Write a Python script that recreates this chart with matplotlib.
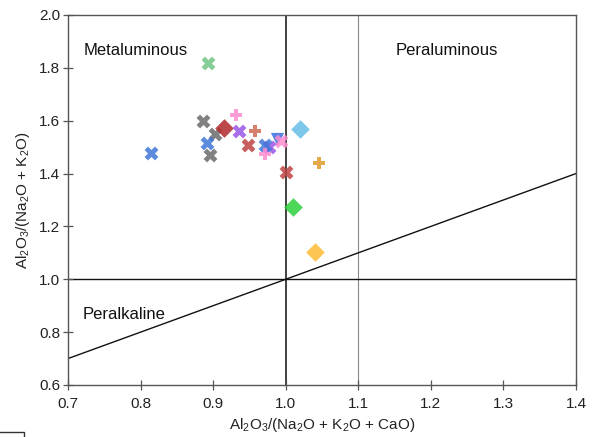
import matplotlib
matplotlib.use("Agg")
import matplotlib.pyplot as plt
from matplotlib.patches import Rectangle

plt.rcParams['font.family'] = ['Liberation Sans', 'DejaVu Sans']
plt.rcParams['mathtext.default'] = 'regular'

# samples: A/CNK, A/NK, marker, colour
acnk = [0.893, 0.815, 0.886, 0.903, 0.891, 0.896, 0.915, 0.931, 0.936, 0.958,
        0.948, 0.988, 0.994, 0.977, 0.971, 0.971, 1.000, 1.020, 1.046, 1.010, 1.040]
ank = [1.820, 1.479, 1.600, 1.550, 1.517, 1.470, 1.572, 1.622, 1.562, 1.561,
       1.508, 1.530, 1.524, 1.502, 1.508, 1.474, 1.407, 1.567, 1.439, 1.272, 1.104]
markers = ['X', 'X', 'X', 'X', 'X', 'X', 'D', 'P', 'X', 'P',
           'X', 'v', 'X', 'X', 'X', 'P', 'X', 'D', 'P', 'D', 'D']
colors = ['#72c585', '#3f77d8', '#6b6b6b', '#6b6b6b', '#3f77d8', '#6b6b6b', '#b22a2a',
          '#ff8ccf', '#9a55e6', '#cf6a55', '#bd4343', '#3a6fe0', '#ff8ccf', '#9a55e6',
          '#3f77d8', '#ff8ccf', '#bd4343', '#66bde8', '#e09a28', '#2ed03c', '#fdbb35']
sizes = {'X': 100, 'P': 85, 'D': 90, 'v': 90}

region_labels = ['Metaluminous', 'Peraluminous', 'Peralkaline']
region_pos = [(0.722, 1.838), (1.151, 1.838), (0.72, 0.84)]

fig = plt.figure(figsize=(5.99, 4.37), dpi=100)
ax = fig.add_axes([0.1135, 0.119, 0.848, 0.8467])

ax.axvline(1.0, color='#333333', lw=1.3, zorder=1)
ax.axvline(1.1, color='#888888', lw=0.8, zorder=1)
ax.axhline(1.0, color='#111111', lw=1.0, zorder=1)
ax.plot([0.7, 1.4], [0.7, 1.4], color='#111111', lw=1.0, zorder=1)

for x, y, m, c in zip(acnk, ank, markers, colors):
    ax.scatter(x, y, marker=m, s=sizes[m], color=c, alpha=0.85, linewidths=0, zorder=3)

for t, (x, y) in zip(region_labels, region_pos):
    ax.text(x, y, t, fontsize=12, color='#111111', ha='left', va='bottom')

ax.set_xlim(0.7, 1.4)
ax.set_ylim(0.6, 2.0)
ax.set_xticks([0.7, 0.8, 0.9, 1.0, 1.1, 1.2, 1.3, 1.4])
ax.set_yticks([0.6, 0.8, 1.0, 1.2, 1.4, 1.6, 1.8, 2.0])
ax.xaxis.set_major_formatter(plt.FormatStrFormatter('%.1f'))
ax.yaxis.set_major_formatter(plt.FormatStrFormatter('%.1f'))
ax.tick_params(direction='inout', length=7, width=0.9, colors='#555555',
               labelcolor='#222222', labelsize=11, pad=2)
ax.tick_params(axis='x', pad=5)
for s in ax.spines.values():
    s.set_color('#555555')
    s.set_linewidth(1.0)

ax.set_xlabel('Al$_2$O$_3$/(Na$_2$O + K$_2$O + CaO)', fontsize=11, color='#222222', labelpad=4)
ax.set_ylabel('Al$_2$O$_3$/(Na$_2$O + K$_2$O)', fontsize=11, color='#222222', labelpad=5)

# stray box corner at bottom left of the screenshot
fig.patches.append(Rectangle((-0.01, -0.05), 0.05, 0.0614, transform=fig.transFigure,
                             fill=False, edgecolor='#333333', lw=1.0))

fig.savefig('out.png', dpi=100)
